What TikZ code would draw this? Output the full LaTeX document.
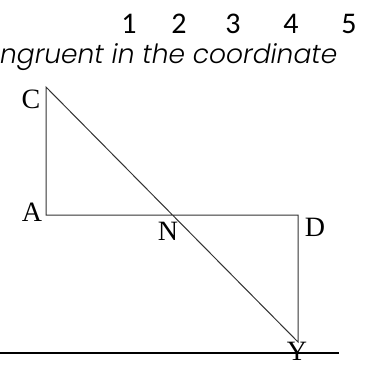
\documentclass[tikz,border=0pt]{standalone}
\usepackage{fontspec}
\setmainfont{Liberation Serif}
\newfontfamily\numfont{Carlito}
\newfontfamily\handfont[UprightFont=* Light Italic]{Poppins}
\begin{document}
\begin{tikzpicture}[x=1pt,y=-1pt,
  lbl/.style={inner sep=0pt,font=\fontsize{28}{28}\selectfont},
  num/.style={inner sep=0pt,font=\numfont\fontsize{30}{30}\selectfont},
  edge/.style={draw=black!80,line width=1pt}]
\useasboundingbox (0,0) rectangle (372,364);
\coordinate (C) at (46,87);
\coordinate (A) at (46,215);
\coordinate (D) at (298,215);
\coordinate (Y) at (298,342);
\coordinate (N) at (174,215);
\coordinate (L0) at (0,353);
\coordinate (L1) at (339,353);
\draw[edge] (C) -- (A) -- (D) -- (Y) -- cycle;
\draw[line width=2pt] (L0) -- (L1);
\node[num] (n1) at (129,24) {1};
\node[num] (n2) at (179,24) {2};
\node[num] (n3) at (233,24) {3};
\node[num] (n4) at (291,24) {4};
\node[num] (n5) at (349,24) {5};
\node[inner sep=0pt,anchor=base west,font=\handfont\fontsize{26.5}{26.5}\selectfont] (t) at (0,63) {ngruent in the coordinate};
\node[lbl] (lc) at (31,99) {C};
\node[lbl] (la) at (32,212) {A};
\node[lbl] (ln) at (168,231) {N};
\node[lbl] (ld) at (315,227) {D};
\node[lbl,anchor=north] (ly) at (297,342) {Y};
\end{tikzpicture}
\end{document}
